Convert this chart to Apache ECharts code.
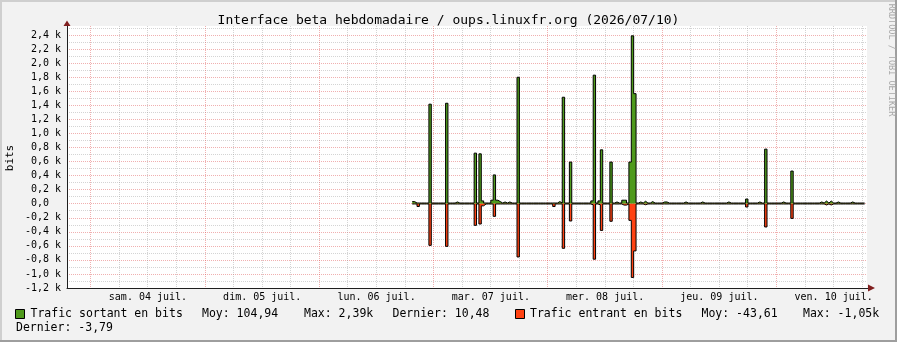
<!DOCTYPE html>
<html><head><meta charset="utf-8">
<script src="https://cdn.jsdelivr.net/npm/echarts@6/dist/echarts.min.js"></script>
<style>html,body{margin:0;padding:0;background:#f2f2f2}#c{width:897px;height:342px}</style>
</head><body><div id="c"></div>
<script>
const titleText = 'Interface beta hebdomadaire / oups.linuxfr.org (2026/07/10)';
const yTitle = 'bits';
const sideText = 'RRDTOOL / TOBI OETIKER';
// x axis in hours relative to sam. 04 juil. 00:00
const xMin = -5, xMax = 163;
const dayLabels = ['sam. 04 juil.', 'dim. 05 juil.', 'lun. 06 juil.', 'mar. 07 juil.', 'mer. 08 juil.', 'jeu. 09 juil.', 'ven. 10 juil.'];
const dayLabelHours = [12, 36, 60, 84, 108, 132, 156];
const gridHours = [0, 6, 12, 18, 24, 30, 36, 42, 48, 54, 60, 66, 72, 78, 84, 90, 96, 102, 108, 114, 120, 126, 132, 138, 144, 150, 156, 162];
const yMin = -1200, yMax = 2530, yStep = 100;
// 30-minute samples starting at hour 67.5
const sampleStart = 67.5, sampleStep = 0.5;
const outBits = [
  30,10,10,10,10,10,10,1417,10,10,
  10,10,10,10,1430,10,10,10,25,10,
  10,10,10,10,10,10,720,10,710,40,
  10,10,10,50,410,50,30,10,25,10,
  25,10,10,10,1800,10,10,10,10,10,
  10,10,10,10,10,10,10,10,10,10,
  10,30,10,1516,10,10,593,10,10,10,
  10,10,10,10,10,40,1830,10,40,767,
  10,10,10,593,10,25,10,10,50,50,
  10,593,2390,1567,10,25,10,35,10,10,
  30,10,10,10,10,25,25,10,10,10,
  10,10,10,10,25,10,10,10,10,10,
  10,25,10,10,10,10,10,10,10,10,
  10,10,25,10,10,10,10,10,10,10,
  67,10,10,10,10,25,10,10,777,10,
  10,10,10,10,10,25,10,10,10,465,
  10,10,10,10,10,10,10,10,10,10,
  10,25,10,38,10,38,10,10,25,10,
  10,10,10,10,25,10,10,10,10,10
];
const inBits = [
  -4,-4,-40,-4,-4,-4,-4,-593,-4,-4,
  -4,-4,-4,-4,-607,-4,-4,-4,-4,-4,
  -4,-4,-4,-4,-4,-4,-308,-4,-289,-30,
  -4,-4,-4,-4,-180,-4,-4,-4,-4,-4,
  -4,-4,-4,-4,-758,-4,-4,-4,-4,-4,
  -4,-4,-4,-4,-4,-4,-4,-4,-4,-40,
  -4,-4,-4,-635,-4,-4,-246,-4,-4,-4,
  -4,-4,-4,-4,-4,-15,-790,-4,-15,-380,
  -4,-4,-4,-250,-4,-4,-4,-4,-20,-20,
  -4,-237,-1050,-672,-4,-4,-4,-15,-4,-4,
  -4,-4,-4,-4,-4,-4,-4,-4,-4,-4,
  -4,-4,-4,-4,-4,-4,-4,-4,-4,-4,
  -4,-4,-4,-4,-4,-4,-4,-4,-4,-4,
  -4,-4,-4,-4,-4,-4,-4,-4,-4,-4,
  -47,-4,-4,-4,-4,-4,-4,-4,-331,-4,
  -4,-4,-4,-4,-4,-4,-4,-4,-4,-209,
  -4,-4,-4,-4,-4,-4,-4,-4,-4,-4,
  -4,-4,-4,-18,-4,-18,-4,-4,-4,-4,
  -4,-4,-4,-4,-4,-4,-4,-4,-4,-4
];
const outName = 'Trafic sortant en bits', outAvg = 'Moy: 104,94', outMax = 'Max: 2,39k', outLast = 'Dernier: 10,48';
const inName = 'Trafic entrant en bits', inAvg = 'Moy: -43,61', inMax = 'Max: -1,05k', inLast = 'Dernier: -3,79';

const MONO = "'DejaVu Sans Mono', monospace";
const GREEN = '#4f9a1c', RED = '#ff4212';
const MGRID = 'rgba(222,80,80,0.45)', GRID = 'rgba(143,143,143,0.38)';

function toSteps(vals) {
  const pts = vals.map((v, i) => [sampleStart + i * sampleStep, v]);
  pts.push([sampleStart + vals.length * sampleStep, vals[vals.length - 1]]);
  return pts;
}
function yLabel(v) {
  const r = Math.round(v);
  if (r % 200 !== 0 || r > 2400) return '';
  if (r === 0) return '0,0\u00a0\u00a0';
  return (r / 1000).toFixed(1).replace('.', ',') + ' k';
}
function txt(x, y, s, size, extra) {
  return Object.assign({ type: 'text', x: x, y: y, silent: true,
    style: { text: s, font: size + 'px ' + MONO, fill: '#000', align: 'left', verticalAlign: 'middle' } }, extra || {});
}

const decor = [
  { type: 'rect', shape: { x: 0, y: 0, width: 897, height: 2 }, style: { fill: '#cfcfcf' }, silent: true },
  { type: 'rect', shape: { x: 0, y: 0, width: 2, height: 342 }, style: { fill: '#cfcfcf' }, silent: true },
  { type: 'rect', shape: { x: 0, y: 340, width: 897, height: 2 }, style: { fill: '#9e9e9e' }, silent: true },
  { type: 'rect', shape: { x: 895, y: 0, width: 2, height: 342 }, style: { fill: '#9e9e9e' }, silent: true },
  { type: 'polygon', shape: { points: [[67, 20.5], [63.5, 26], [70.5, 26]] }, style: { fill: '#801f1f' }, silent: true, z: 5 },
  { type: 'polygon', shape: { points: [[875, 288], [868, 284.5], [868, 291.5]] }, style: { fill: '#801f1f' }, silent: true, z: 5 },
  { type: 'line', shape: { x1: 867, y1: 288.5, x2: 869, y2: 288.5 }, style: { stroke: '#1f1f1f', lineWidth: 1 }, silent: true },
  { type: 'text', x: 891, y: 60, rotation: -Math.PI / 2, silent: true,
    style: { text: sideText, font: '8.5px ' + MONO, fill: '#a8a8a8', align: 'center', verticalAlign: 'middle' } },
  { type: 'text', x: 10.5, y: 158, rotation: Math.PI / 2, silent: true,
    style: { text: yTitle, font: '11px ' + MONO, fill: '#000', align: 'center', verticalAlign: 'middle' } },
  { type: 'rect', shape: { x: 15.5, y: 309.5, width: 9, height: 9 }, style: { fill: GREEN, stroke: '#000', lineWidth: 1 }, silent: true },
  txt(30.5, 314, outName, 11.5),
  txt(202, 314, outAvg, 11.5),
  txt(304, 314, outMax, 11.5),
  txt(392.5, 314, outLast, 11.5),
  { type: 'rect', shape: { x: 515.5, y: 309.5, width: 9, height: 9 }, style: { fill: RED, stroke: '#000', lineWidth: 1 }, silent: true },
  txt(530, 314, inName, 11.5),
  txt(701.5, 314, inAvg, 11.5),
  txt(803, 314, inMax, 11.5),
  txt(16, 328.5, inLast, 11.5)
];

const chart = echarts.init(document.getElementById('c'), null, { renderer: 'canvas' });
chart.setOption({
  animation: false,
  backgroundColor: '#f2f2f2',
  title: { text: titleText, left: 'center', top: 14, padding: 0,
    textStyle: { fontFamily: MONO, fontSize: 13, fontWeight: 'normal', color: '#000' } },
  grid: { left: 67, right: 30, top: 26, bottom: 54, show: true, backgroundColor: '#ffffff', borderWidth: 0,
    containLabel: false, outerBoundsMode: 'none' },
  xAxis: {
    type: 'value', min: xMin, max: xMax,
    axisLine: { show: true, onZero: false, lineStyle: { color: '#1f1f1f', width: 1 } },
    axisTick: { show: false },
    axisLabel: { customValues: dayLabelHours, formatter: v => { const i = dayLabelHours.indexOf(Math.round(v)); return i >= 0 ? dayLabels[i] : ''; },
      fontFamily: MONO, fontSize: 10, color: '#000', margin: 4 },
    splitLine: { show: false }
  },
  yAxis: {
    type: 'value', min: yMin, max: yMax, interval: yStep,
    axisLine: { show: true, onZero: false, lineStyle: { color: '#1f1f1f', width: 1 } },
    axisTick: { show: false },
    axisLabel: { formatter: yLabel, fontFamily: MONO, fontSize: 10, color: '#000', margin: 6, showMaxLabel: false },
    splitLine: { show: true, showMaxLine: false, lineStyle: { color: [MGRID, GRID], type: 'dotted', width: 1 } }
  },
  series: [
    { name: outName, type: 'line', step: 'end', data: toSteps(outBits), symbol: 'none', silent: true, z: 3,
      lineStyle: { color: '#000', width: 1 }, itemStyle: { color: GREEN }, areaStyle: { color: GREEN, opacity: 1 } },
    { name: inName, type: 'line', step: 'end', data: toSteps(inBits), symbol: 'none', silent: true, z: 3,
      lineStyle: { color: '#000', width: 1 }, itemStyle: { color: RED }, areaStyle: { color: RED, opacity: 1 } }
  ],
  graphic: decor
});

// vertical grid lines placed through the x axis scale
const yTop = chart.convertToPixel({ yAxisIndex: 0 }, yMax);
const yBot = chart.convertToPixel({ yAxisIndex: 0 }, yMin);
const vgrid = gridHours.map(h => {
  const x = Math.floor(chart.convertToPixel({ xAxisIndex: 0 }, h)) + 0.5;
  return { type: 'line', silent: true, z: 1,
    shape: { x1: x, y1: yTop, x2: x, y2: yBot },
    style: { stroke: h % 24 === 0 ? MGRID : GRID, lineWidth: 1, lineDash: [1, 1] } };
});
chart.setOption({ graphic: decor.concat(vgrid) });
</script></body></html>
